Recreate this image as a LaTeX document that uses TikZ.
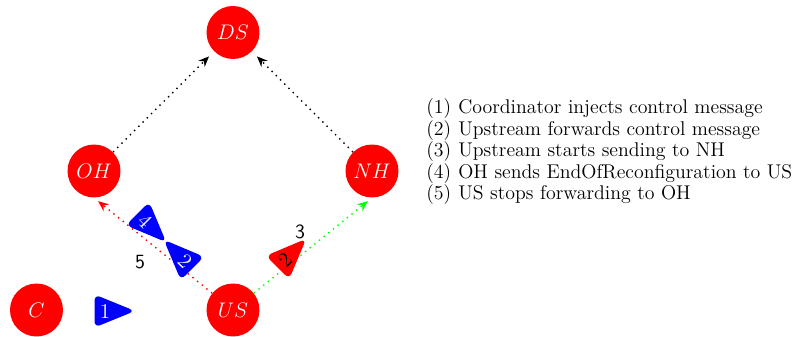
\documentclass[tikz,border=0pt]{standalone}
\usetikzlibrary{arrows.meta}
\newcommand{\msgtri}[7]{%
  \begin{scope}[shift={#2}, rotate=#3]
    \fill[#4, rounded corners=3.5pt] (-10.5,-16.5) -- (30,0) -- (-10.5,16.5) -- cycle;
  \end{scope}
  \node[msgtxt, text=#5, rotate=#6] (#1) at #2 {#7};}
\begin{document}
\begin{tikzpicture}[x=0.02cm,y=-0.02cm,
  proc/.style={circle, fill=red, minimum size=1.06cm, inner sep=0pt, text=white, font=\fontsize{13}{15}\selectfont},
  flow/.style={line width=0.8pt, dash pattern=on 0.8pt off 2.6pt, -{Stealth[length=6pt,width=5pt,inset=2pt]}, shorten >=4pt},
  msgtxt/.style={inner sep=0pt, font=\fontsize{12}{14}\selectfont},
  numlbl/.style={inner sep=0pt, font=\sffamily\fontsize{11.5}{13}\selectfont},
  legend/.style={anchor=base west, inner sep=0pt, font=\fontsize{11.3}{13}\selectfont},
]
\useasboundingbox (0,0) rectangle (795,337);
\node[proc] (DS) at (233,32.5) {$DS$};
\node[proc] (OH) at (94,171) {$OH$};
\node[proc] (NH) at (372,171) {$NH$};
\node[proc] (C) at (36.5,310) {$C$};
\node[proc] (US) at (233,310) {$US$};
\draw[flow] (OH) -- (DS);
\draw[flow] (NH) -- (DS);
\draw[flow, red, shorten >=3pt] (US) -- (OH.south);
\draw[flow, green, shorten >=3pt] (US) -- (NH.south);
\msgtri{m1}{(105,311)}{0}{blue}{white}{0}{1}
\msgtri{m4}{(145,221)}{-45}{blue}{white}{-45}{4}
\msgtri{m2b}{(185,261)}{135}{blue}{white}{-45}{2}
\msgtri{m2r}{(285,260)}{45}{red}{black}{45}{2}
\node[numlbl] (l5) at (140,262) {5};
\node[numlbl] (l3) at (300,232) {3};
\node[legend] (n1) at (426,114) {(1)};
\node[legend] (t1) at (458,114) {Coordinator injects control message};
\node[legend] (n2) at (426,135.5) {(2)};
\node[legend] (t2) at (458,135.5) {Upstream forwards control message};
\node[legend] (n3) at (426,157) {(3)};
\node[legend] (t3) at (458,157) {Upstream starts sending to NH};
\node[legend] (n4) at (426,178.5) {(4)};
\node[legend] (t4) at (458,178.5) {OH sends EndOfReconfiguration to US};
\node[legend] (n5) at (426,200) {(5)};
\node[legend] (t5) at (458,200) {US stops forwarding to OH};
\end{tikzpicture}
\end{document}
